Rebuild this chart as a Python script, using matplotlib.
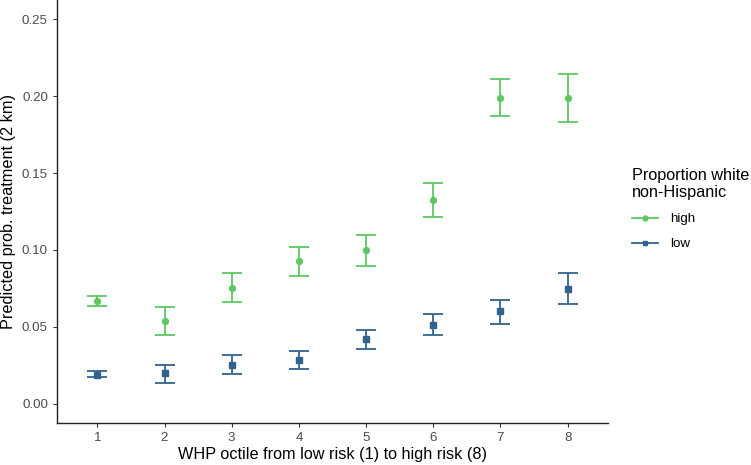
import numpy as np
import matplotlib
matplotlib.use('Agg')
import matplotlib.pyplot as plt
from matplotlib.lines import Line2D

plt.rcParams['font.family'] = ['Liberation Sans', 'DejaVu Sans']

octiles = [1, 2, 3, 4, 5, 6, 7, 8]

high_est = [0.067, 0.054, 0.0753, 0.0929, 0.0998, 0.1325, 0.199, 0.199]
high_lo = [0.0634, 0.0448, 0.066, 0.0833, 0.0898, 0.1216, 0.1868, 0.1833]
high_hi = [0.070, 0.0632, 0.0853, 0.102, 0.1097, 0.1433, 0.211, 0.2143]

low_est = [0.019, 0.0197, 0.0253, 0.0284, 0.0418, 0.0511, 0.0600, 0.0749]
low_lo = [0.0171, 0.0138, 0.0193, 0.0225, 0.0353, 0.0444, 0.0519, 0.0647]
low_hi = [0.0212, 0.0255, 0.0314, 0.0344, 0.048, 0.0582, 0.0677, 0.0853]

green = '#5DC863'
blue = '#33638D'

fig = plt.figure(figsize=(7.51, 4.65), dpi=100)
ax = fig.add_axes([0.0759, 0.0903, 0.7337, 0.9097])

x = np.array(octiles)
for est, lo, hi, col, mk, ms in [(high_est, high_lo, high_hi, green, 'o', 4.2),
                                  (low_est, low_lo, low_hi, blue, 's', 4.0)]:
    est = np.array(est)
    yerr = [est - np.array(lo), np.array(hi) - est]
    ax.errorbar(x, est, yerr=yerr, fmt=mk, color=col, ecolor=col,
                markersize=ms, elinewidth=1.3, capsize=7.2, capthick=1.3)

ax.set_xlim(0.4, 8.6)
ax.set_ylim(-0.0125, 0.2625)
ax.set_xticks(octiles)
ax.set_yticks([0.0, 0.05, 0.10, 0.15, 0.20, 0.25])
ax.set_yticklabels(['0.00', '0.05', '0.10', '0.15', '0.20', '0.25'])

for s in ['top', 'right']:
    ax.spines[s].set_visible(False)
for s in ['left', 'bottom']:
    ax.spines[s].set_linewidth(1.0)
    ax.spines[s].set_color('#222222')
ax.tick_params(axis='both', length=3, width=0.8, color='#333333',
               labelcolor='#4D4D4D', labelsize=9.6, pad=3.5)

ax.set_xlabel('WHP octile from low risk (1) to high risk (8)', fontsize=11.7, labelpad=2)
ax.set_ylabel('Predicted prob. treatment (2 km)', fontsize=11.7, labelpad=4)

handles = [
    Line2D([0], [0], color=green, marker='o', markersize=3.5, lw=1.3),
    Line2D([0], [0], color=blue, marker='s', markersize=3.5, lw=1.3),
]
leg = fig.legend(handles, ['high', 'low'], title='Proportion white\nnon-Hispanic',
                 loc='upper left', bbox_to_anchor=(0.826, 0.665), frameon=False,
                 fontsize=9.6, title_fontsize=11.7, handlelength=1.9,
                 labelspacing=0.95, handletextpad=0.9, alignment='left')

fig.savefig('out.png', dpi=100)
